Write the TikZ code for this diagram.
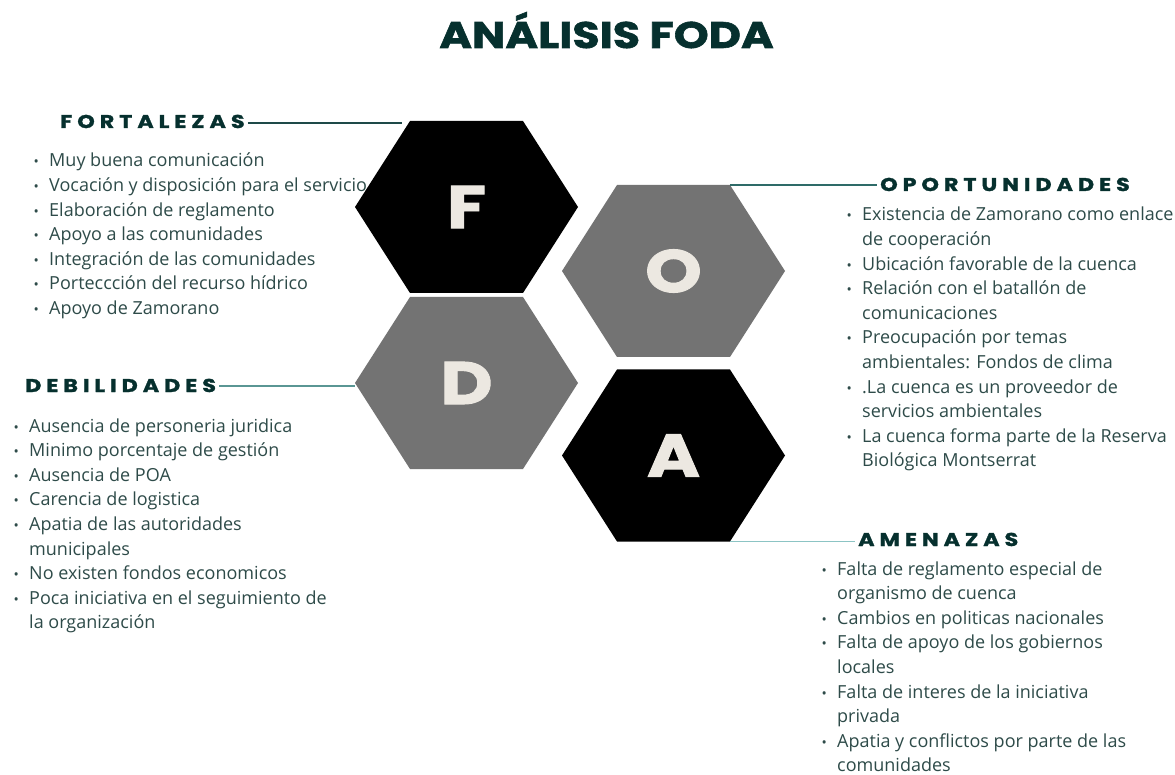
\documentclass[tikz,border=0pt]{standalone}
\usepackage{fontspec}
\setmainfont{Open Sans}
\newfontfamily\heavywide{Poppins}[BoldFeatures={FakeBold=1.6,FakeStretch=1.2}]
\usetikzlibrary{calc}

\definecolor{ink}{HTML}{06302E}
\definecolor{bodytext}{HTML}{2E4B49}
\definecolor{hexgray}{HTML}{737373}
\definecolor{hexletter}{HTML}{ECE8E1}
\definecolor{lineF}{HTML}{1E4A48}
\definecolor{lineO}{HTML}{2E6B68}
\definecolor{lineD}{HTML}{5A9694}
\definecolor{lineA}{HTML}{8CC4C4}

% letter-spaced capitals for the section headings
\makeatletter
\newcommand\spreadcaps[2]{\def\sc@gap{#1}\@tfor\sc@tok:=#2\do{\sc@tok\kern\sc@gap}\unkern}
\makeatother

% bullet column of the lists
\newcommand\bitem{\makebox[13pt][l]{\hspace{-2.5pt}{\fontsize{14}{14}\selectfont •}}}
\newcommand\listfont{\fontsize{18}{24.6}\selectfont}

% flat-topped hexagon with its letter
\newcommand\foda[5]{%
  \fill[#4] ({#2-111.5},{#3}) coordinate (#1-l)
    -- ({#2-56.5},{#3-86}) coordinate (#1-tl)
    -- ({#2+56.5},{#3-86}) coordinate (#1-tr)
    -- ({#2+111.5},{#3}) coordinate (#1-r)
    -- ({#2+56.5},{#3+86}) coordinate (#1-br)
    -- ({#2-56.5},{#3+86}) coordinate (#1-bl) -- cycle;
  \node[letternode] (#1) at (#2,#3) {#5};}

\begin{document}
\begin{tikzpicture}[x=1pt,y=-1pt,
  letternode/.style={inner sep=0, text=hexletter, font=\heavywide\bfseries\fontsize{60}{60}\selectfont},
  heading/.style={inner xsep=3pt, inner ysep=0, text=ink, font=\heavywide\bfseries\fontsize{18.5}{18.5}\selectfont},
  listnode/.style={anchor=base west, inner sep=0, text=bodytext, font=\listfont},
  link/.style={line width=1.6pt}]
\useasboundingbox[fill=white] (0,0) rectangle (1175,775);

% title
\node[anchor=base, inner sep=0, text=ink, font=\heavywide\bfseries\fontsize{37}{37}\selectfont] (title) at (606.5,48) {ANÁLISIS FODA};

% the four hexagons
\foda{F}{466.5}{207}{black}{F}
\foda{D}{466.5}{383}{hexgray}{D}
\foda{O}{673.5}{271}{hexgray}{O}
\foda{A}{673.5}{455.5}{black}{A}

% headings
\node[heading, anchor=base west] (fort) at (57,128) {\spreadcaps{5pt}{FORTALEZAS}};
\node[heading, anchor=base west] (opor) at (877,191) {\spreadcaps{5pt}{OPORTUNIDADES}};
\node[heading, anchor=base west] (debi) at (22,392) {\spreadcaps{5pt}{DEBILIDADES}};
\node[heading, anchor=base west] (amen) at (855,546) {\spreadcaps{5pt}{AMENAZAS}};

% connectors between headings and hexagons
\coordinate (fortend) at (402,123);
\draw[link, lineF] (fort.east |- fortend) -- (fortend);
\draw[link, lineO] (O-tr) -- (opor.west |- O-tr);
\draw[link, lineD] (debi.east |- 0,386) -- (D-l |- 0,386);
\draw[link, lineA] (A-br) -- (amen.west |- A-br);

% lists
\node[listnode] (fl) at (36,167) {\begin{tabular}[t]{@{}l@{}l@{}}
\bitem & Muy buena comunicación\\
\bitem & Vocación y disposición para el servicio\\
\bitem & Elaboración de reglamento\\
\bitem & Apoyo a las comunidades\\
\bitem & Integración de las comunidades\\
\bitem & Porteccción del recurso hídrico\\
\bitem & Apoyo de Zamorano
\end{tabular}};

\node[listnode] (dl) at (16,432) {\begin{tabular}[t]{@{}l@{}l@{}}
\bitem & Ausencia de personeria juridica\\
\bitem & Minimo porcentaje de gestión\\
\bitem & Ausencia de POA\\
\bitem & Carencia de logistica\\
\bitem & Apatia de las autoridades\\
 & municipales\\
\bitem & No existen fondos economicos\\
\bitem & Poca iniciativa en el seguimiento de\\
 & la organización
\end{tabular}};

\node[listnode] (ol) at (849,221) {\begin{tabular}[t]{@{}l@{}l@{}}
\bitem & Existencia de Zamorano como enlace\\
 & de cooperación\\
\bitem & Ubicación favorable de la cuenca\\
\bitem & Relación con el batallón de\\
 & comunicaciones\\
\bitem & Preocupación por temas\\
 & ambientales: Fondos de clima\\
\bitem & .La cuenca es un proveedor de\\
 & servicios ambientales\\
\bitem & La cuenca forma parte de la Reserva\\
 & Biológica Montserrat
\end{tabular}};

\node[listnode] (al) at (824,575) {\begin{tabular}[t]{@{}l@{}l@{}}
\bitem & Falta de reglamento especial de\\
 & organismo de cuenca\\
\bitem & Cambios en politicas nacionales\\
\bitem & Falta de apoyo de los gobiernos\\
 & locales\\
\bitem & Falta de interes de la iniciativa\\
 & privada\\
\bitem & Apatia y conflictos por parte de las\\
 & comunidades
\end{tabular}};
\end{tikzpicture}
\end{document}
